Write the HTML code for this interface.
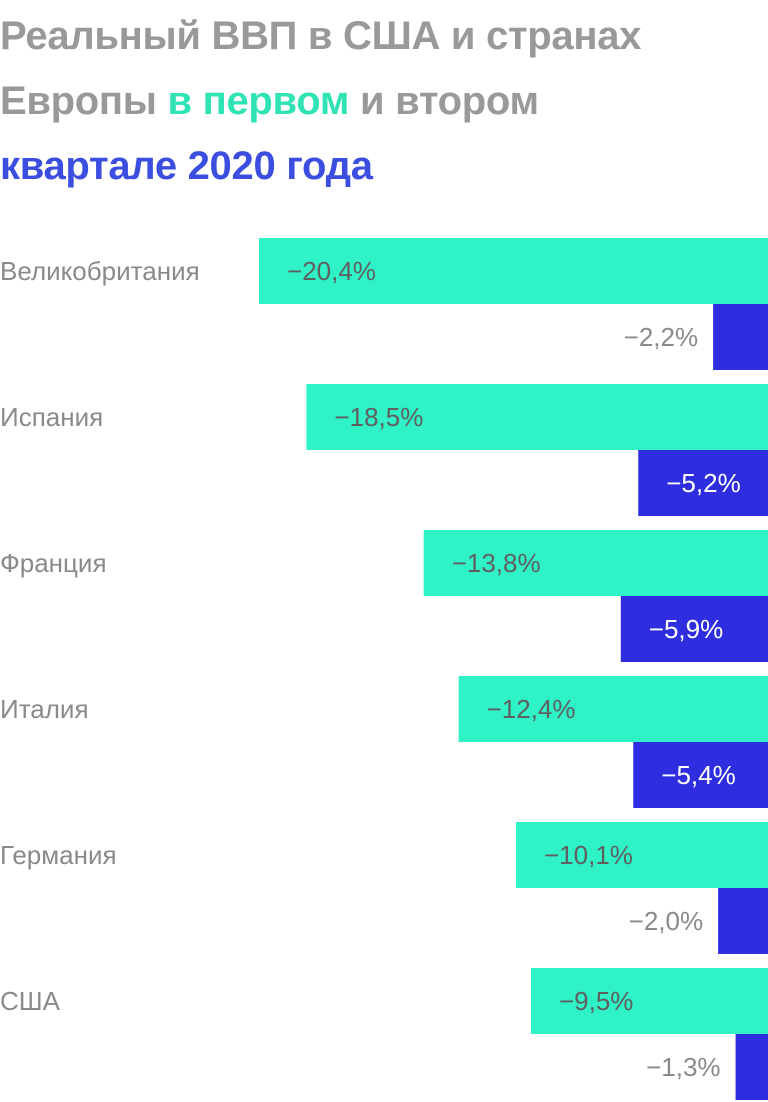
<!DOCTYPE html>
<html><head><meta charset="utf-8"><style>
body{margin:0;width:768px;height:1102px;background:#fff;overflow:hidden;font-family:"Liberation Sans",sans-serif;position:relative}
#title{position:absolute;left:0;top:4px;font-weight:bold;font-size:40px;line-height:65px;color:#999;margin:0;letter-spacing:-0.3px}
.g{color:#2fe3b5}.b{color:#3b4ee0}
</style></head><body>
<h1 id="title">Реальный ВВП в США и странах<br>Европы <span class="g">в первом</span> и втором<br><span class="b">квартале 2020 года</span></h1>
<svg id="chart" width="768" height="1102" style="position:absolute;left:0;top:0"></svg>
<script>
const countries=["Великобритания","Испания","Франция","Италия","Германия","США"];
const q1=[-20.4,-18.5,-13.8,-12.4,-10.1,-9.5];
const q2=[-2.2,-5.2,-5.9,-5.4,-2.0,-1.3];
const svg=document.getElementById('chart');
const NS='http://www.w3.org/2000/svg';
const right=768,scale=24.95,top0=238,bh=66,step=146;
function x(v){return right+v*scale;}
function fmt(v){return '\u2212'+Math.abs(v).toFixed(1).replace('.',',')+'%';}
function mk(tag,attrs){const e=document.createElementNS(NS,tag);for(const k in attrs)e.setAttribute(k,attrs[k]);svg.appendChild(e);return e;}
countries.forEach((c,i)=>{
  const y=top0+i*step;
  const t=mk('text',{x:0,y:y+bh/2+9,'font-size':26,fill:'#8a8a8a','font-family':'Liberation Sans, sans-serif'});
  t.textContent=c;
  
  
  [[q1[i],'#2ff2c6',y,'q1'],[q2[i],'#2e2ee0',y+bh,'q2']].forEach(([v,col,yy,s])=>{
    const r=mk('rect',{x:x(v),y:yy,width:right-x(v),height:bh,fill:col});
    
    
    const inside=Math.abs(v)>3;
    const lt=mk('text',{y:yy+bh/2+9,'font-size':26,'font-family':'Liberation Sans, sans-serif'});
    if(inside){lt.setAttribute('x',x(v)+28);lt.setAttribute('fill',s==='q1'?'#5f5f5f':'#fff');}
    else{lt.setAttribute('x',x(v)-15);lt.setAttribute('text-anchor','end');lt.setAttribute('fill','#8a8a8a');}
    lt.textContent=fmt(v);
    
    
  });
});
</script>
</body></html>
